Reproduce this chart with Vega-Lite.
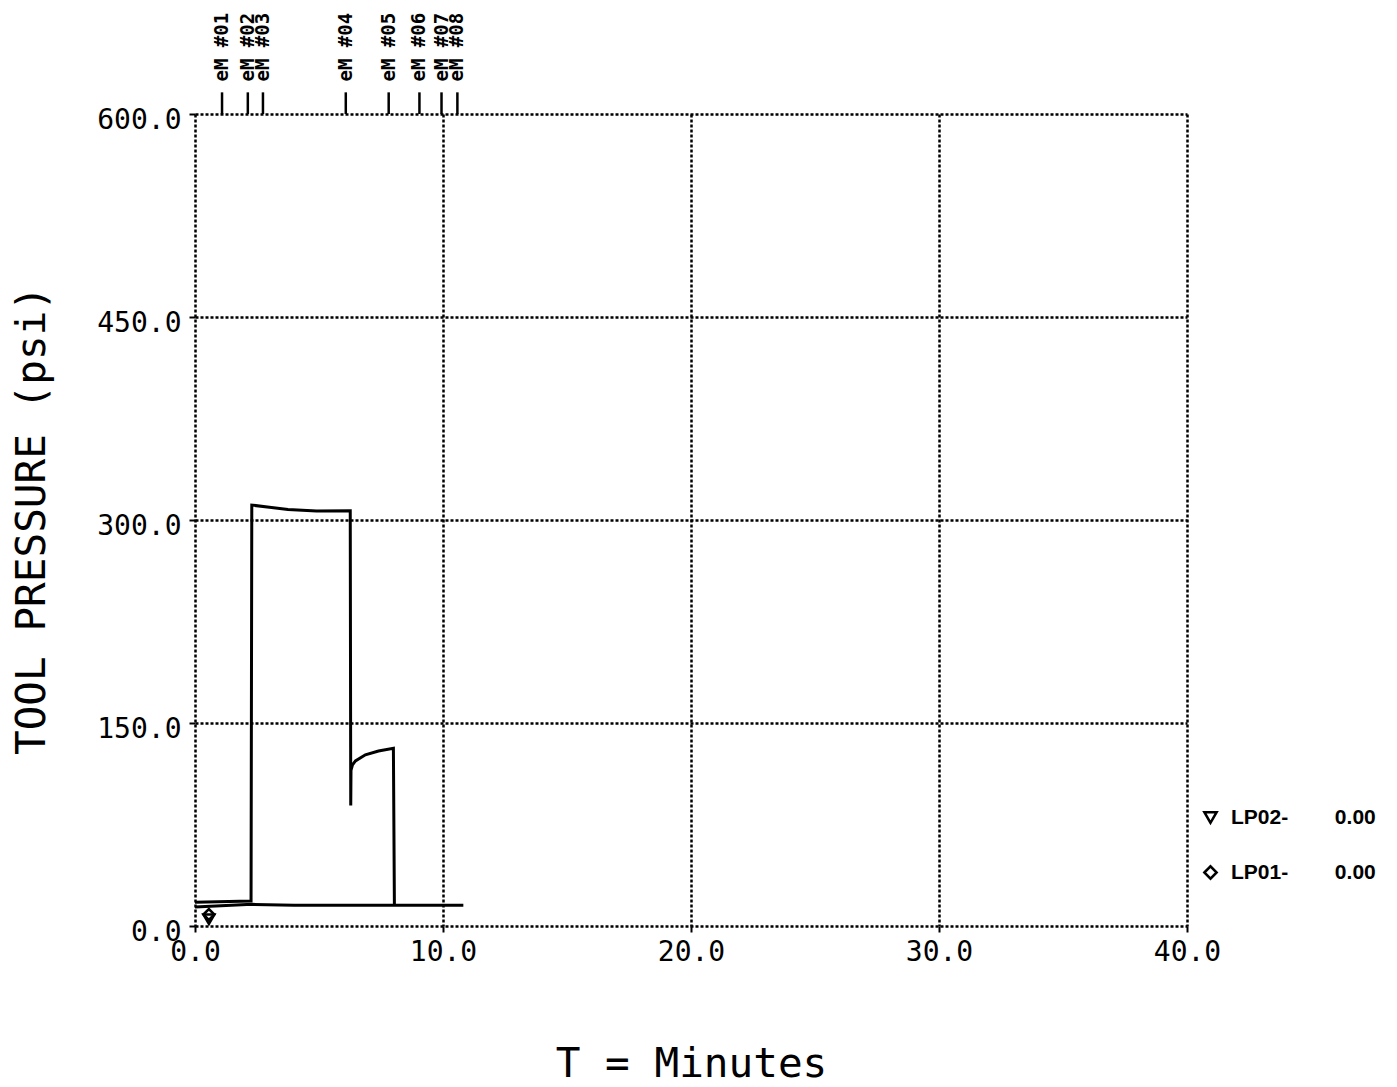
{
  "$schema": "https://vega.github.io/schema/vega-lite/v6.json",
  "width": 992,
  "height": 812,
  "autosize": {"type": "none"},
  "padding": {"left": 195, "top": 114, "right": 210, "bottom": 161},
  "background": "white",
  "config": {
    "view": {"stroke": null},
    "axis": {
      "grid": true,
      "gridColor": "black",
      "gridDash": [3, 2],
      "gridWidth": 2.5,
      "gridOpacity": 1,
      "domain": false,
      "tickColor": "black",
      "tickWidth": 2,
      "tickSize": 6,
      "labelFont": "DejaVu Sans Mono",
      "labelFontSize": 28,
      "labelColor": "black",
      "labelFlush": false,
      "labelOverlap": false,
      "titleFont": "DejaVu Sans Mono",
      "titleFontSize": 41,
      "titleFontWeight": "normal",
      "titleColor": "black"
    }
  },
  "datasets": {
    "curve": [
      {"series": "A", "t": 0.0, "p": 17.5},
      {"series": "A", "t": 2.26, "p": 18.5},
      {"series": "A", "t": 2.29, "p": 311},
      {"series": "A", "t": 3.0, "p": 309.5},
      {"series": "A", "t": 3.75, "p": 307.8},
      {"series": "A", "t": 4.9, "p": 306.6},
      {"series": "A", "t": 6.26, "p": 306.8},
      {"series": "A", "t": 6.28, "p": 89},
      {"series": "A", "t": 6.29, "p": 115},
      {"series": "A", "t": 6.35, "p": 119},
      {"series": "A", "t": 6.47, "p": 122},
      {"series": "A", "t": 6.87, "p": 126.5},
      {"series": "A", "t": 7.4, "p": 129.3},
      {"series": "A", "t": 8.0, "p": 131.3},
      {"series": "A", "t": 8.04, "p": 15.5},
      {"series": "B", "t": 0.0, "p": 14},
      {"series": "B", "t": 2.3, "p": 16},
      {"series": "B", "t": 4.0, "p": 15.4},
      {"series": "B", "t": 8.05, "p": 15.3},
      {"series": "B", "t": 10.82, "p": 15.3}
    ],
    "symbols": [
      {"series": "LP01", "t": 0.56, "p": 8.5},
      {"series": "LP02", "t": 0.56, "p": 5}
    ],
    "markers": [
      {"t": 1.09, "label": "eM #01"},
      {"t": 2.13, "label": "eM #02"},
      {"t": 2.74, "label": "eM #03"},
      {"t": 6.08, "label": "eM #04"},
      {"t": 7.81, "label": "eM #05"},
      {"t": 9.05, "label": "eM #06"},
      {"t": 9.94, "label": "eM #07"},
      {"t": 10.58, "label": "eM #08"}
    ]
  },
  "layer": [
    {
      "data": {"name": "curve"},
      "mark": {"type": "line", "color": "black", "strokeWidth": 3},
      "encoding": {
        "x": {
          "field": "t",
          "type": "quantitative",
          "scale": {"domain": [0, 40], "nice": false},
          "axis": {
            "values": [0, 10, 20, 30, 40],
            "format": ".1f",
            "labelPadding": 6,
            "title": "T = Minutes",
            "titlePadding": 78
          }
        },
        "y": {
          "field": "p",
          "type": "quantitative",
          "scale": {"domain": [0, 600], "nice": false},
          "axis": {
            "values": [0, 150, 300, 450, 600],
            "format": ".1f",
            "labelPadding": 8,
            "labelOffset": 6,
            "title": "TOOL PRESSURE (psi)",
            "titlePadding": 43
          }
        },
        "detail": {"field": "series"}
      }
    },
    {
      "data": {"name": "symbols"},
      "mark": {"type": "point", "filled": false, "color": "black", "opacity": 1, "strokeWidth": 2.5, "size": 120},
      "encoding": {
        "x": {"field": "t", "type": "quantitative"},
        "y": {"field": "p", "type": "quantitative"},
        "shape": {
          "field": "series",
          "type": "nominal",
          "scale": {"domain": ["LP02", "LP01"], "range": ["triangle-down", "diamond"]},
          "legend": {
            "title": null,
            "orient": "none",
            "legendX": 1005,
            "legendY": 693,
            "labelExpr": "datum.label + '-\u00a0\u00a0\u00a0\u00a0\u00a0\u00a0\u00a0\u00a00.00'",
            "labelFont": "Liberation Sans",
            "labelFontWeight": "bold",
            "labelFontSize": 21,
            "labelColor": "black",
            "labelOffset": 10,
            "symbolSize": 150,
            "symbolStrokeColor": "black",
            "symbolOpacity": 1,
            "symbolStrokeWidth": 2.5,
            "symbolFillColor": "transparent",
            "rowPadding": 33
          }
        }
      }
    },
    {
      "data": {"name": "markers"},
      "mark": {"type": "rule", "color": "black", "strokeWidth": 2.5},
      "encoding": {
        "x": {"field": "t", "type": "quantitative"},
        "y": {"datum": 600},
        "y2": {"datum": 616}
      }
    },
    {
      "data": {"name": "markers"},
      "mark": {"type": "text", "angle": 270, "align": "left", "baseline": "middle", "font": "DejaVu Sans Mono", "fontWeight": "bold", "fontSize": 19, "color": "black"},
      "encoding": {
        "x": {"field": "t", "type": "quantitative"},
        "y": {"datum": 624},
        "text": {"field": "label"}
      }
    }
  ]
}
